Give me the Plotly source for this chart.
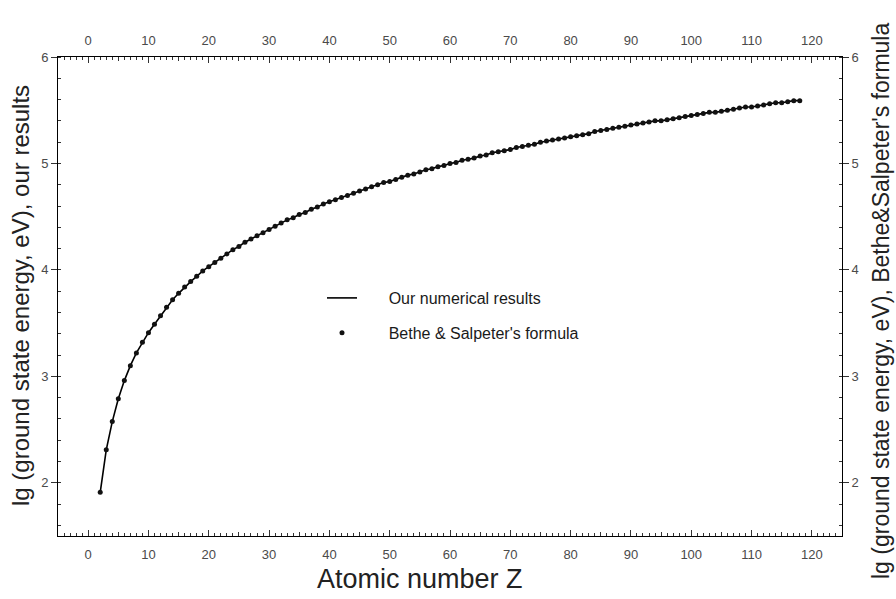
import plotly.graph_objects as go

# Atomic number Z
Z = list(range(2, 119))

# lg(ground state energy, eV)
our_results = [
    1.91, 2.31, 2.575, 2.79, 2.96, 3.10, 3.22, 3.32, 3.41, 3.49,   # Z=2..11
    3.57, 3.65, 3.72, 3.78, 3.84, 3.89, 3.94, 3.99, 4.03, 4.07,    # Z=12..21
    4.11, 4.15, 4.19, 4.22, 4.26, 4.29, 4.32, 4.35, 4.38, 4.41,    # Z=22..31
    4.44, 4.47, 4.49, 4.52, 4.54, 4.57, 4.59, 4.62, 4.64, 4.66,    # Z=32..41
    4.68, 4.70, 4.72, 4.74, 4.76, 4.78, 4.80, 4.82, 4.83, 4.85,    # Z=42..51
    4.87, 4.89, 4.90, 4.92, 4.94, 4.95, 4.97, 4.98, 5.00, 5.01,    # Z=52..61
    5.03, 5.04, 5.05, 5.07, 5.08, 5.10, 5.11, 5.12, 5.13, 5.15,    # Z=62..71
    5.16, 5.17, 5.18, 5.20, 5.21, 5.22, 5.23, 5.24, 5.25, 5.26,    # Z=72..81
    5.27, 5.28, 5.30, 5.31, 5.32, 5.33, 5.34, 5.35, 5.36, 5.37,    # Z=82..91
    5.38, 5.39, 5.40, 5.40, 5.41, 5.42, 5.43, 5.44, 5.45, 5.46,    # Z=92..101
    5.47, 5.48, 5.48, 5.49, 5.50, 5.51, 5.52, 5.53, 5.53, 5.54,    # Z=102..111
    5.55, 5.56, 5.57, 5.57, 5.58, 5.59, 5.59,                      # Z=112..118
]
bethe_salpeter = list(our_results)

x_tick_labels = [str(v) for v in range(0, 121, 10)]
x_tick_vals = list(range(0, 121, 10))
x_mid_vals = list(range(-5, 126, 10))
y_tick_vals = [2, 3, 4, 5, 6]
y_tick_labels = ["2", "3", "4", "5", "6"]

FONT = "Liberation Sans, Arial, sans-serif"
TICKC = "#333333"
LABC = "#4a4a4a"

fig = go.Figure()
fig.add_trace(go.Scatter(
    x=Z, y=our_results, mode="lines", name="\u00a0" * 6 + "Our numerical results",
    line=dict(color="black", width=1.6), legendgroup="a",
))
fig.add_trace(go.Scatter(
    x=Z, y=bethe_salpeter, mode="markers", name="\u00a0" * 6 + "Bethe & Salpeter's formula",
    marker=dict(color="#111111", size=5, line=dict(width=0)), legendgroup="b",
))
# invisible carriers so that the mirrored / extra tick axes are drawn
for xa, ya in (("x2", "y2"), ("x3", "y"), ("x4", "y")):
    fig.add_trace(go.Scatter(x=Z, y=our_results, xaxis=xa, yaxis=ya, mode="markers",
                             marker=dict(opacity=0), showlegend=False, hoverinfo="skip"))

common_x = dict(range=[-5, 125], showgrid=False, zeroline=False, showline=True,
                linecolor="black", linewidth=1, tickcolor=TICKC, tickwidth=1,
                automargin=False,
                tickfont=dict(family=FONT, size=13, color=LABC))
xmain = dict(common_x, tickmode="array", tickvals=x_tick_vals, ticktext=x_tick_labels,
             ticks="inside", ticklen=6,
             minor=dict(tickmode="linear", tick0=0, dtick=1, ticks="inside",
                        ticklen=3, tickcolor=TICKC))
xmid = dict(range=[-5, 125], showgrid=False, zeroline=False, showline=False,
            automargin=False,
            tickmode="array", tickvals=x_mid_vals, ticktext=[""] * len(x_mid_vals),
            ticks="inside", ticklen=4, tickcolor=TICKC, tickwidth=1)

common_y = dict(range=[1.5, 6], showgrid=False, zeroline=False, showline=True,
                linecolor="black", linewidth=1, tickcolor=TICKC, tickwidth=1,
                automargin=False,
                tickmode="array", tickvals=y_tick_vals, ticktext=y_tick_labels,
                ticks="outside", ticklen=6,
                minor=dict(tickmode="linear", tick0=0, dtick=0.2, ticks="inside",
                           ticklen=3, tickcolor=TICKC),
                tickfont=dict(family=FONT, size=13, color=LABC))

fig.update_layout(
    width=896, height=599,
    margin=dict(l=58, r=54, t=57, b=63),
    paper_bgcolor="white", plot_bgcolor="white",
    font=dict(family=FONT, color="#222222"),
    xaxis=dict(xmain, side="bottom", anchor="y", ticklabelstandoff=6),
    xaxis2=dict(xmain, side="top", overlaying="x", anchor="y2", ticklabelstandoff=6),
    xaxis3=dict(xmid, side="bottom", overlaying="x", anchor="y"),
    xaxis4=dict(xmid, side="top", overlaying="x", anchor="y"),
    yaxis=dict(common_y, side="left", anchor="x"),
    yaxis2=dict(common_y, side="right", overlaying="y", anchor="x2"),
    showlegend=True,
    legend=dict(x=(322 - 58) / 784, y=(536 - 281) / 479, xanchor="left", yanchor="top",
                bgcolor="rgba(0,0,0,0)", borderwidth=0,
                font=dict(family=FONT, size=16, color="#1a1a1a"),
                tracegroupgap=11, traceorder="grouped"),
    annotations=[
        dict(text="Atomic number Z", xref="paper", yref="paper",
             x=(420 - 58) / 784, y=(536 - 579) / 479, xanchor="center", yanchor="middle",
             showarrow=False, font=dict(family=FONT, size=27, color="#222222")),
        dict(text="lg (ground state energy, eV), our results", xref="paper", yref="paper",
             x=(20 - 58) / 784, y=(536 - 296) / 479, xanchor="center", yanchor="middle",
             textangle=-90, showarrow=False, font=dict(family=FONT, size=24, color="#222222")),
        dict(text="lg (ground state energy, eV), Bethe&amp;Salpeter's formula", xref="paper", yref="paper",
             x=(881 - 58) / 784, y=(536 - 301) / 479, xanchor="center", yanchor="middle",
             textangle=-90, showarrow=False, font=dict(family=FONT, size=23, color="#222222")),
    ],
)

fig.write_html("out.html", config={"displayModeBar": False},
               post_script="document.body.style.margin='0';document.body.style.padding='0';")
